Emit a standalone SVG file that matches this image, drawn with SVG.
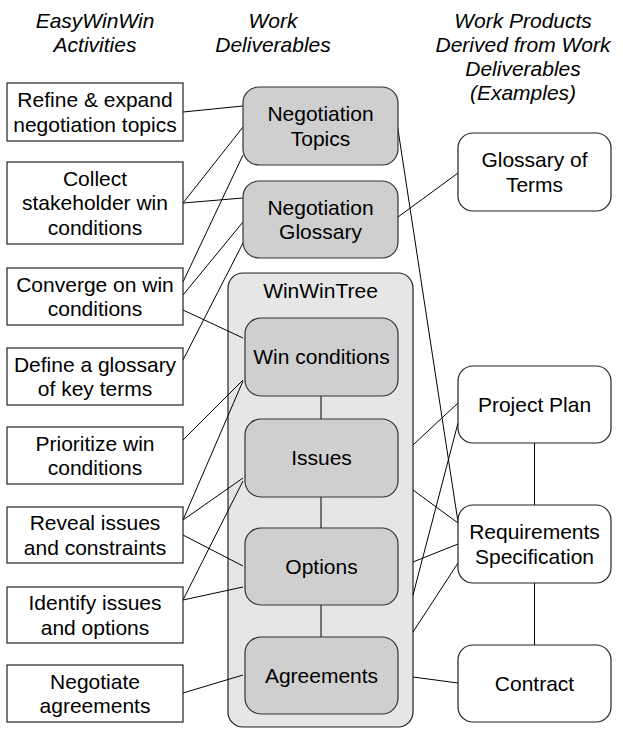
<svg xmlns="http://www.w3.org/2000/svg" width="623" height="729" viewBox="0 0 623 729">
  <style>
    text { font-family: "Liberation Sans", Arial, sans-serif; font-size: 21px; fill: #000; text-anchor: middle; }
    .hdr { font-style: italic; }
    .act { fill: #fff; stroke: #222; stroke-width: 1.2; }
    .del { fill: #cfcfcf; stroke: #333; stroke-width: 1.2; }
    .tree { fill: #e6e6e6; stroke: #222; stroke-width: 1.2; }
    .prod { fill: #fff; stroke: #222; stroke-width: 1.2; }
    #connectors line { stroke: #000; stroke-width: 1; }
  </style>

  <!-- column headings -->
  <g id="headings">
    <text class="hdr" x="95" y="28">EasyWinWin</text>
    <text class="hdr" x="95" y="52">Activities</text>
    <text class="hdr" x="273" y="28">Work</text>
    <text class="hdr" x="273" y="52">Deliverables</text>
    <text class="hdr" x="523" y="28">Work Products</text>
    <text class="hdr" x="523" y="52">Derived from Work</text>
    <text class="hdr" x="523" y="76">Deliverables</text>
    <text class="hdr" x="523" y="100">(Examples)</text>
  </g>

  <!-- WinWinTree container -->
  <g id="winwintree">
    <rect class="tree" x="228" y="273" width="185" height="454" rx="15"/>
    <text x="320.5" y="298">WinWinTree</text>
  </g>

  <g id="connectors">
    <!-- activities to deliverables -->
    <line x1="183" y1="112" x2="243" y2="106"/>
    <line x1="183" y1="203" x2="243" y2="127"/>
    <line x1="183" y1="203" x2="243" y2="198"/>
    <line x1="183" y1="282" x2="243" y2="155"/>
    <line x1="183" y1="295" x2="243" y2="222"/>
    <line x1="183" y1="310" x2="243" y2="338"/>
    <line x1="183" y1="360" x2="243" y2="243"/>
    <line x1="183" y1="440" x2="243" y2="380"/>
    <line x1="183" y1="520" x2="243" y2="381"/>
    <line x1="183" y1="520" x2="243" y2="478"/>
    <line x1="183" y1="535" x2="243" y2="566"/>
    <line x1="183" y1="600" x2="243" y2="481"/>
    <line x1="183" y1="600" x2="243" y2="587"/>
    <line x1="183" y1="693" x2="243" y2="675"/>
    <!-- within the WinWinTree -->
    <line x1="321" y1="396" x2="321" y2="419"/>
    <line x1="321" y1="497" x2="321" y2="528"/>
    <line x1="321" y1="605" x2="321" y2="637"/>
    <!-- deliverables to work products -->
    <line x1="397" y1="123" x2="458" y2="522"/>
    <line x1="398" y1="217" x2="458" y2="173"/>
    <line x1="413" y1="445" x2="458" y2="403"/>
    <line x1="413" y1="490" x2="458" y2="523"/>
    <line x1="458" y1="423" x2="413" y2="595"/>
    <line x1="413" y1="562" x2="458" y2="544"/>
    <line x1="413" y1="632" x2="458" y2="563"/>
    <line x1="413" y1="677" x2="458" y2="683"/>
    <!-- between work products -->
    <line x1="534.5" y1="443" x2="534.5" y2="505"/>
    <line x1="534.5" y1="583" x2="534.5" y2="645"/>
  </g>

  <!-- EasyWinWin activities -->
  <g id="act-refine">
    <rect class="act" x="7" y="83" width="176" height="58"/>
    <text x="95" y="107">Refine &amp; expand</text>
    <text x="95" y="131.5">negotiation topics</text>
  </g>
  <g id="act-collect">
    <rect class="act" x="7" y="162" width="176" height="82"/>
    <text x="95" y="185.5">Collect</text>
    <text x="95" y="210">stakeholder win</text>
    <text x="95" y="234.5">conditions</text>
  </g>
  <g id="act-converge">
    <rect class="act" x="7" y="268" width="176" height="57"/>
    <text x="95" y="291.5">Converge on win</text>
    <text x="95" y="316">conditions</text>
  </g>
  <g id="act-define">
    <rect class="act" x="7" y="348" width="176" height="57"/>
    <text x="95" y="371.5">Define a glossary</text>
    <text x="95" y="396">of key terms</text>
  </g>
  <g id="act-prioritize">
    <rect class="act" x="7" y="427" width="176" height="57"/>
    <text x="95" y="450.5">Prioritize win</text>
    <text x="95" y="475">conditions</text>
  </g>
  <g id="act-reveal">
    <rect class="act" x="7" y="507" width="176" height="56"/>
    <text x="95" y="530">Reveal issues</text>
    <text x="95" y="554.5">and constraints</text>
  </g>
  <g id="act-identify">
    <rect class="act" x="7" y="587" width="176" height="56"/>
    <text x="95" y="610">Identify issues</text>
    <text x="95" y="634.5">and options</text>
  </g>
  <g id="act-negotiate">
    <rect class="act" x="7" y="665" width="176" height="57"/>
    <text x="95" y="688.5">Negotiate</text>
    <text x="95" y="713">agreements</text>
  </g>

  <!-- work deliverables -->
  <g id="del-topics">
    <rect class="del" x="243" y="87" width="155" height="78" rx="16"/>
    <text x="320.5" y="121">Negotiation</text>
    <text x="320.5" y="145.5">Topics</text>
  </g>
  <g id="del-glossary">
    <rect class="del" x="243" y="181" width="155" height="77" rx="16"/>
    <text x="320.5" y="214.5">Negotiation</text>
    <text x="320.5" y="239">Glossary</text>
  </g>
  <g id="del-winconditions">
    <rect class="del" x="245" y="318" width="153" height="78" rx="16"/>
    <text x="321.5" y="364">Win conditions</text>
  </g>
  <g id="del-issues">
    <rect class="del" x="245" y="419" width="153" height="78" rx="16"/>
    <text x="321.5" y="465">Issues</text>
  </g>
  <g id="del-options">
    <rect class="del" x="245" y="528" width="153" height="77" rx="16"/>
    <text x="321.5" y="573.5">Options</text>
  </g>
  <g id="del-agreements">
    <rect class="del" x="245" y="637" width="153" height="77" rx="16"/>
    <text x="321.5" y="682.5">Agreements</text>
  </g>

  <!-- derived work products -->
  <g id="prod-glossary">
    <rect class="prod" x="458" y="133" width="153" height="78" rx="15"/>
    <text x="534.5" y="167">Glossary of</text>
    <text x="534.5" y="191.5">Terms</text>
  </g>
  <g id="prod-plan">
    <rect class="prod" x="458" y="366" width="153" height="77" rx="15"/>
    <text x="534.5" y="411.5">Project Plan</text>
  </g>
  <g id="prod-requirements">
    <rect class="prod" x="458" y="505" width="153" height="78" rx="15"/>
    <text x="534.5" y="539">Requirements</text>
    <text x="534.5" y="563.5">Specification</text>
  </g>
  <g id="prod-contract">
    <rect class="prod" x="458" y="645" width="153" height="77" rx="15"/>
    <text x="534.5" y="690.5">Contract</text>
  </g>
</svg>
